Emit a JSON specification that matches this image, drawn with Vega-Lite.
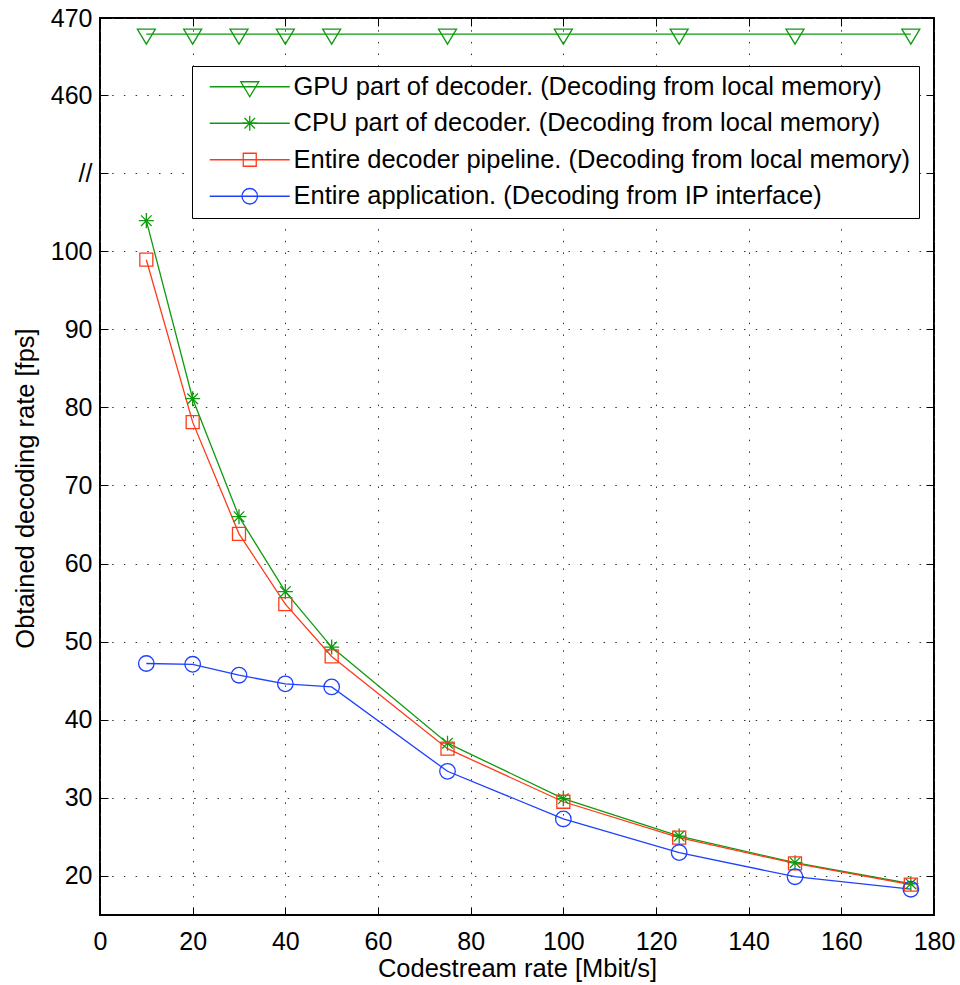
{
  "$schema": "https://vega.github.io/schema/vega-lite/v6.json",
  "width": 834,
  "height": 897,
  "autosize": {"type": "none"},
  "padding": {"left": 100, "top": 18, "right": 26, "bottom": 70},
  "background": "white",
  "config": {
    "font": "Liberation Sans",
    "view": {"stroke": "black", "strokeWidth": 2},
    "axis": {"labelColor": "black", "titleColor": "black", "titleFontWeight": "normal", "labelFontSize": 25, "titleFontSize": 25.5, "labelFlush": false, "labelOverlap": false}
  },
  "data": {
    "values": [
      {"rate": 10, "fps": 467.9, "series": "GPU part of decoder. (Decoding from local memory)"},
      {"rate": 20, "fps": 467.9, "series": "GPU part of decoder. (Decoding from local memory)"},
      {"rate": 30, "fps": 467.9, "series": "GPU part of decoder. (Decoding from local memory)"},
      {"rate": 40, "fps": 467.9, "series": "GPU part of decoder. (Decoding from local memory)"},
      {"rate": 50, "fps": 467.9, "series": "GPU part of decoder. (Decoding from local memory)"},
      {"rate": 75, "fps": 467.9, "series": "GPU part of decoder. (Decoding from local memory)"},
      {"rate": 100, "fps": 467.9, "series": "GPU part of decoder. (Decoding from local memory)"},
      {"rate": 125, "fps": 467.9, "series": "GPU part of decoder. (Decoding from local memory)"},
      {"rate": 150, "fps": 467.9, "series": "GPU part of decoder. (Decoding from local memory)"},
      {"rate": 175, "fps": 467.9, "series": "GPU part of decoder. (Decoding from local memory)"},
      {"rate": 10, "fps": 103.9, "series": "CPU part of decoder. (Decoding from local memory)"},
      {"rate": 20, "fps": 81.1, "series": "CPU part of decoder. (Decoding from local memory)"},
      {"rate": 30, "fps": 66.0, "series": "CPU part of decoder. (Decoding from local memory)"},
      {"rate": 40, "fps": 56.4, "series": "CPU part of decoder. (Decoding from local memory)"},
      {"rate": 50, "fps": 49.3, "series": "CPU part of decoder. (Decoding from local memory)"},
      {"rate": 75, "fps": 37.0, "series": "CPU part of decoder. (Decoding from local memory)"},
      {"rate": 100, "fps": 29.9, "series": "CPU part of decoder. (Decoding from local memory)"},
      {"rate": 125, "fps": 25.1, "series": "CPU part of decoder. (Decoding from local memory)"},
      {"rate": 150, "fps": 21.7, "series": "CPU part of decoder. (Decoding from local memory)"},
      {"rate": 175, "fps": 19.0, "series": "CPU part of decoder. (Decoding from local memory)"},
      {"rate": 10, "fps": 98.9, "series": "Entire decoder pipeline. (Decoding from local memory)"},
      {"rate": 20, "fps": 78.1, "series": "Entire decoder pipeline. (Decoding from local memory)"},
      {"rate": 30, "fps": 63.8, "series": "Entire decoder pipeline. (Decoding from local memory)"},
      {"rate": 40, "fps": 54.8, "series": "Entire decoder pipeline. (Decoding from local memory)"},
      {"rate": 50, "fps": 48.1, "series": "Entire decoder pipeline. (Decoding from local memory)"},
      {"rate": 75, "fps": 36.3, "series": "Entire decoder pipeline. (Decoding from local memory)"},
      {"rate": 100, "fps": 29.5, "series": "Entire decoder pipeline. (Decoding from local memory)"},
      {"rate": 125, "fps": 24.9, "series": "Entire decoder pipeline. (Decoding from local memory)"},
      {"rate": 150, "fps": 21.6, "series": "Entire decoder pipeline. (Decoding from local memory)"},
      {"rate": 175, "fps": 18.9, "series": "Entire decoder pipeline. (Decoding from local memory)"},
      {"rate": 10, "fps": 47.2, "series": "Entire application. (Decoding from IP interface)"},
      {"rate": 20, "fps": 47.1, "series": "Entire application. (Decoding from IP interface)"},
      {"rate": 30, "fps": 45.7, "series": "Entire application. (Decoding from IP interface)"},
      {"rate": 40, "fps": 44.6, "series": "Entire application. (Decoding from IP interface)"},
      {"rate": 50, "fps": 44.2, "series": "Entire application. (Decoding from IP interface)"},
      {"rate": 75, "fps": 33.4, "series": "Entire application. (Decoding from IP interface)"},
      {"rate": 100, "fps": 27.3, "series": "Entire application. (Decoding from IP interface)"},
      {"rate": 125, "fps": 23.0, "series": "Entire application. (Decoding from IP interface)"},
      {"rate": 150, "fps": 19.9, "series": "Entire application. (Decoding from IP interface)"},
      {"rate": 175, "fps": 18.3, "series": "Entire application. (Decoding from IP interface)"}
    ]
  },
  "layer": [
    {
      "mark": {"type": "line", "strokeWidth": 1.3},
      "encoding": {
        "x": {
          "field": "rate", "type": "quantitative",
          "scale": {"domain": [0, 180], "nice": false, "zero": false},
          "axis": {
            "orient": "bottom", "title": "Codestream rate [Mbit/s]",
            "values": [0, 20, 40, 60, 80, 100, 120, 140, 160, 180],
            "grid": true, "gridColor": "#333333", "gridDash": [1.5, 10.2], "gridWidth": 1,
            "domain": false, "ticks": true, "tickSize": -8, "tickColor": "black", "tickWidth": 1,
            "labelPadding": 22, "titleY": 41, "titleBaseline": "top"
          }
        },
        "y": {
          "field": "fps", "type": "quantitative",
          "scale": {"domain": [15, 110, 460, 470], "range": [897, 155, 77, 0], "nice": false, "zero": false},
          "axis": {
            "orient": "left", "title": "Obtained decoding rate [fps]",
            "values": [20, 30, 40, 50, 60, 70, 80, 90, 100, 110, 460, 470],
            "labelExpr": "datum.value == 110 ? '//' : datum.label",
            "grid": true, "gridColor": "#333333", "gridDash": [1.5, 10.2], "gridWidth": 1,
            "domain": false, "ticks": true, "tickSize": -8, "tickColor": "black", "tickWidth": 1,
            "labelPadding": 16, "titleX": -62, "titleY": 470, "titleAngle": 270, "titleBaseline": "bottom", "titleAlign": "center"
          }
        },
        "color": {
          "field": "series", "type": "nominal",
          "scale": {
            "domain": [
              "GPU part of decoder. (Decoding from local memory)",
              "CPU part of decoder. (Decoding from local memory)",
              "Entire decoder pipeline. (Decoding from local memory)",
              "Entire application. (Decoding from IP interface)"
            ],
            "range": ["#0f9a0f", "#0f9a0f", "#ff3a1a", "#1f40ff"]
          },
          "legend": {
            "orient": "none", "legendX": 92, "legendY": 48, "title": null,
            "symbolType": "M-5,0H5", "symbolSize": 256, "symbolStrokeWidth": 1.3,
            "symbolOffset": 37, "labelOffset": 31, "padding": 8, "rowPadding": 9.5,
            "labelFontSize": 25.5, "labelColor": "black", "labelLimit": 800,
            "strokeColor": "black", "fillColor": "white"
          }
        }
      }
    },
    {
      "mark": {"type": "point", "filled": false, "size": 256, "strokeWidth": 1.3, "opacity": 1},
      "encoding": {
        "x": {
          "field": "rate", "type": "quantitative",
          "axis": {
            "orient": "top", "title": null, "labels": false, "grid": false, "domain": false,
            "values": [0, 20, 40, 60, 80, 100, 120, 140, 160, 180],
            "ticks": true, "tickSize": -8, "tickColor": "black", "tickWidth": 1
          }
        },
        "y": {
          "field": "fps", "type": "quantitative",
          "axis": {
            "orient": "right", "title": null, "labels": false, "grid": false, "domain": false,
            "values": [20, 30, 40, 50, 60, 70, 80, 90, 100, 110, 460, 470],
            "ticks": true, "tickSize": -8, "tickColor": "black", "tickWidth": 1
          }
        },
        "color": {
          "field": "series", "type": "nominal",
          "legend": {
            "orient": "none", "legendX": 92, "legendY": 48, "title": null,
            "symbolSize": 256, "symbolStrokeWidth": 1.3,
            "symbolOffset": 37, "labelOffset": 31, "padding": 8, "rowPadding": 9.5,
            "labelFontSize": 25.5, "labelOpacity": 0, "labelLimit": 800
          }
        },
        "shape": {
          "field": "series", "type": "nominal",
          "scale": {
            "domain": [
              "GPU part of decoder. (Decoding from local memory)",
              "CPU part of decoder. (Decoding from local memory)",
              "Entire decoder pipeline. (Decoding from local memory)",
              "Entire application. (Decoding from IP interface)"
            ],
            "range": [
              "M-1.125,-0.625H1.125L0,1.25Z",
              "M-0.94,0H0.94M0,-0.94V0.94M-0.66,-0.66L0.66,0.66M-0.66,0.66L0.66,-0.66",
              "M-0.8125,-0.8125H0.8125V0.8125H-0.8125Z",
              "M-0.97,0A0.97,0.97,0,1,1,0.97,0A0.97,0.97,0,1,1,-0.97,0Z"
            ]
          },
          "legend": {
            "orient": "none", "legendX": 92, "legendY": 48, "title": null,
            "symbolSize": 256, "symbolStrokeWidth": 1.3,
            "symbolOffset": 37, "labelOffset": 31, "padding": 8, "rowPadding": 9.5,
            "labelFontSize": 25.5, "labelOpacity": 0, "labelLimit": 800
          }
        }
      }
    }
  ],
  "resolve": {
    "axis": {"x": "independent", "y": "independent"},
    "legend": {"color": "independent", "shape": "independent"}
  }
}
